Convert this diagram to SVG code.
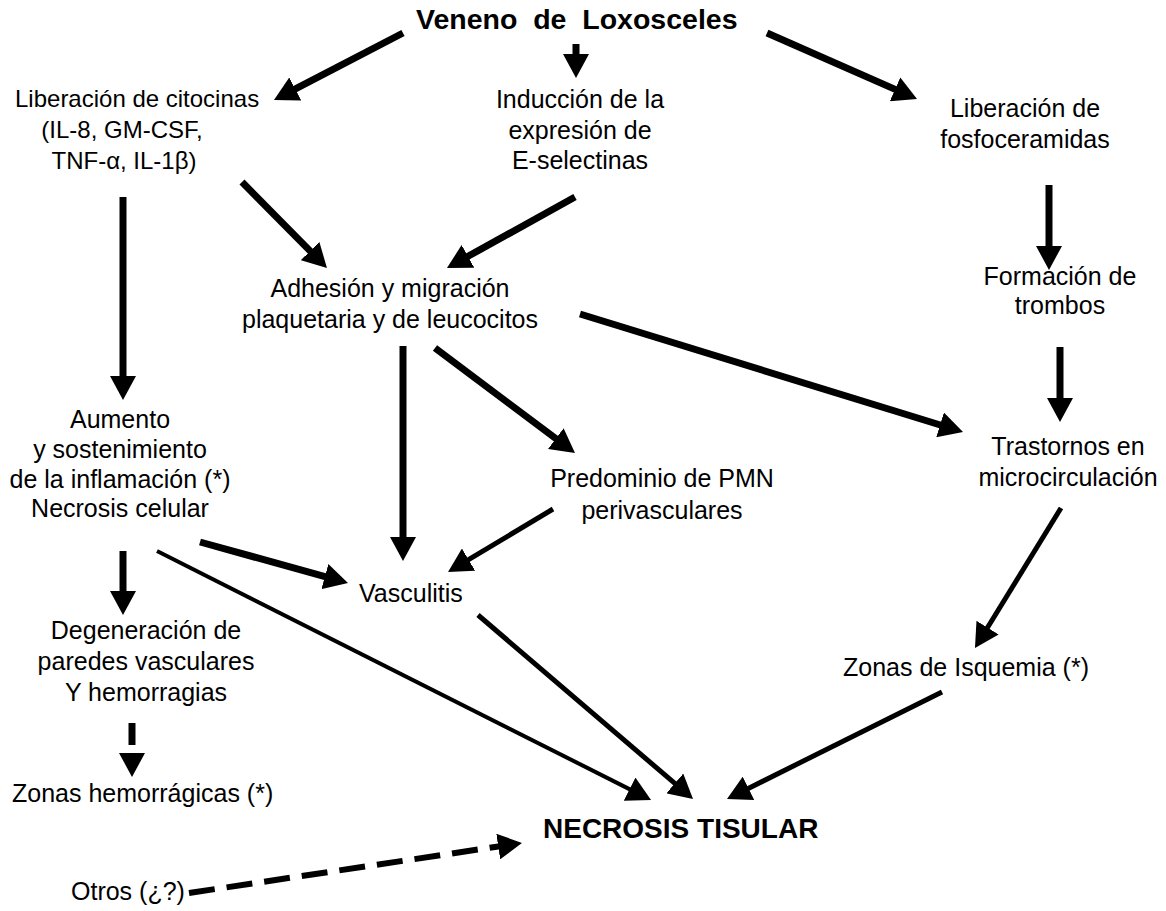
<svg xmlns="http://www.w3.org/2000/svg" width="1166" height="911" viewBox="0 0 1166 911">
<style>
text{font-family:"Liberation Sans",Arial,sans-serif;font-size:25px;fill:#000}
.b{font-weight:bold;font-size:28.5px}
.s{font-size:24px}
.m{text-anchor:middle}
.c line{stroke:#000;fill:none}
.w7{stroke-width:7}
.w5{stroke-width:5}
.w4{stroke-width:4}
.d{stroke-width:6;stroke-dasharray:26 12}
</style>
<defs>
<marker id="ah" markerUnits="userSpaceOnUse" markerWidth="25" markerHeight="26" refX="2" refY="13" orient="auto" viewBox="0 0 25 26">
<path d="M0,0 L24,13 L0,26 z" fill="#000"/>
</marker>
<marker id="ahg" markerUnits="userSpaceOnUse" markerWidth="34" markerHeight="26" refX="-8" refY="13" orient="auto" viewBox="-8 0 34 26">
<path d="M0,0 L24,13 L0,26 z" fill="#000"/>
</marker>
</defs>
<rect width="1166" height="911" fill="#fff"/>
<g class="c">
<line class="w7" x1="403" y1="33" x2="293.5" y2="89.9" marker-end="url(#ah)"/>
<line class="w7" x1="576" y1="44" x2="576" y2="56" marker-end="url(#ah)"/>
<line class="w7" x1="767" y1="33" x2="896.9" y2="90.1" marker-end="url(#ah)"/>
<line class="w7" x1="242" y1="182" x2="311.5" y2="252.4" marker-end="url(#ah)"/>
<line class="w7" x1="575" y1="197" x2="466.2" y2="257.3" marker-end="url(#ah)"/>
<line class="w7" x1="1049" y1="185" x2="1049" y2="248" marker-end="url(#ah)"/>
<line class="w7" x1="1060" y1="347" x2="1060" y2="400" marker-end="url(#ah)"/>
<line class="w7" x1="123" y1="197" x2="123" y2="378" marker-end="url(#ah)"/>
<line class="w7" x1="403" y1="346" x2="403" y2="539" marker-end="url(#ah)"/>
<line class="w7" x1="435" y1="348" x2="557.4" y2="439.8" marker-end="url(#ah)"/>
<line class="w7" x1="580" y1="314" x2="942" y2="425.5" marker-end="url(#ah)"/>
<line class="w5" x1="553" y1="509" x2="466.9" y2="560.7" marker-end="url(#ah)"/>
<line class="w7" x1="200" y1="542" x2="326.8" y2="577.1" marker-end="url(#ah)"/>
<line class="w7" x1="123" y1="551" x2="123" y2="593" marker-end="url(#ah)"/>
<line class="w4" x1="157" y1="551" x2="631.4" y2="790.1" marker-end="url(#ah)"/>
<line class="w5" x1="478" y1="615" x2="676.3" y2="784.7" marker-end="url(#ah)"/>
<line class="w5" x1="1061" y1="508" x2="986.5" y2="629.3" marker-end="url(#ah)"/>
<line class="w5" x1="942" y1="692" x2="746.7" y2="789.2" marker-end="url(#ah)"/>
<line class="w7" x1="132" y1="723" x2="132" y2="745" marker-end="url(#ahg)"/>
<line class="d" x1="189" y1="893" x2="500.2" y2="846.2" marker-end="url(#ah)"/>
</g>
<g id="veneno"><text class="b" x="416" y="29" xml:space="preserve">Veneno  de  Loxosceles</text></g>
<g id="citocinas">
<text class="s" x="15" y="107">Liberación de citocinas</text>
<text class="s m" x="122" y="138">(IL-8, GM-CSF,</text>
<text class="s m" x="124" y="169">TNF-α, IL-1β)</text>
</g>
<g id="induccion">
<text class="m" x="580" y="108">Inducción de la</text>
<text class="m" x="580" y="139">expresión de</text>
<text class="m" x="580" y="169">E-selectinas</text>
</g>
<g id="fosfoceramidas">
<text class="m" x="1025" y="117">Liberación de</text>
<text class="m" x="1025" y="148">fosfoceramidas</text>
</g>
<g id="adhesion">
<text class="m" x="390" y="297">Adhesión y migración</text>
<text class="m" x="390" y="328">plaquetaria y de leucocitos</text>
</g>
<g id="trombos">
<text class="m" x="1060" y="285">Formación de</text>
<text class="m" x="1060" y="314">trombos</text>
</g>
<g id="aumento">
<text class="m" x="120" y="428">Aumento</text>
<text class="m" x="120" y="458">y sostenimiento</text>
<text class="m" x="120" y="488">de la inflamación (*)</text>
<text class="m" x="120" y="517">Necrosis celular</text>
</g>
<g id="predominio">
<text class="m" x="662" y="487">Predominio de PMN</text>
<text class="m" x="662" y="519">perivasculares</text>
</g>
<g id="trastornos">
<text class="m" x="1068" y="455">Trastornos en</text>
<text class="m" x="1068" y="486">microcirculación</text>
</g>
<g id="vasculitis"><text x="359" y="602">Vasculitis</text></g>
<g id="degeneracion">
<text class="m" x="146" y="639">Degeneración de</text>
<text class="m" x="146" y="670">paredes vasculares</text>
<text class="m" x="146" y="701">Y hemorragias</text>
</g>
<g id="isquemia"><text class="m" x="966" y="676">Zonas de Isquemia (*)</text></g>
<g id="hemorragicas"><text x="12" y="802">Zonas hemorrágicas (*)</text></g>
<g id="necrosis"><text class="b" x="543" y="838" style="font-size:28px">NECROSIS TISULAR</text></g>
<g id="otros"><text x="71" y="900">Otros (¿?)</text></g>
</svg>
